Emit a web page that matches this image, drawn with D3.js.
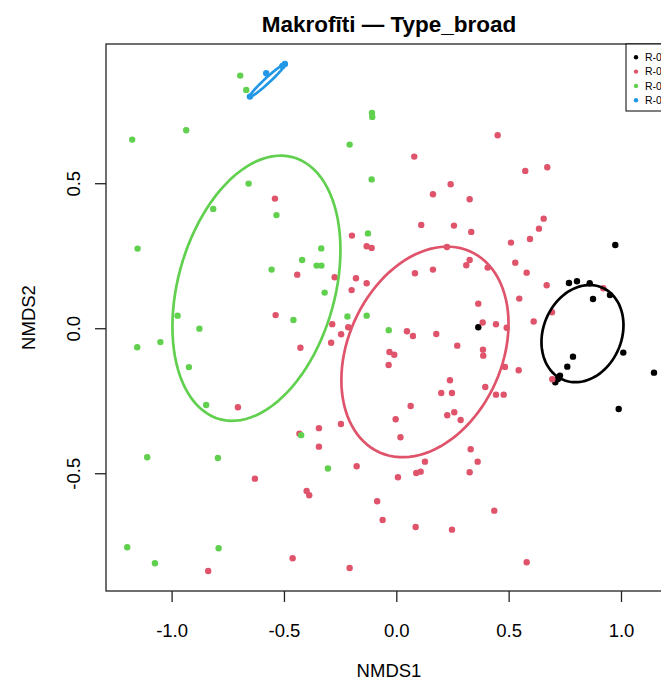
<!DOCTYPE html>
<html lang="lv">

<head>
    <meta charset="UTF-8">
    <title>Makrofīti NMDS</title>
    <script src="https://d3js.org/d3.v7.min.js"></script>
    <style>
        body {
            margin: 0;
            background: white;
            font-family: "Liberation Sans", Arial, sans-serif;
        }

        .title {
            font-size: 22.5px;
            font-weight: bold;
        }

        .axis text {
            font-size: 18.5px;
            font-family: "Liberation Sans", Arial, sans-serif;
            fill: black;
        }

        .axis-label {
            font-size: 18.5px;
        }

        .legend text {
            font-size: 10.5px;
        }
    </style>
</head>

<body>
    <svg id="chart" width="661" height="681"></svg>
    <script>
        // groups (legend order) and colours
        let groups = ["R-01", "R-02", "R-03", "R-04"]
        let colors = ["#000000", "#DF536B", "#61D04F", "#2297E6"]

        // NMDS scores per group, [NMDS1, NMDS2]
        let pts_r01 = [
            [0.9746, 0.2872], [0.7685, 0.1562], [0.8041, 0.1621], [0.8607, 0.1552], [0.8754, 0.1010],
            [0.9510, 0.1148], [0.3648, 0.0034], [0.7863, -0.0979], [0.7610, -0.1324], [0.7285, -0.1634],
            [0.7196, -0.1748], [0.7075, -0.1862], [1.0102, -0.0841], [1.1469, -0.1531], [0.9898, -0.2783]
        ]
        let pts_r02 = [
            [-0.5402, 0.4469], [-0.1974, 0.3193], [-0.1320, 0.2828], [-0.1097, 0.2769], [-0.4409, 0.1848],
            [-0.2744, 0.1759], [-0.1796, 0.1724], [-0.1320, 0.1552], [-0.1988, 0.1314], [-0.5371, 0.0452],
            [0.4511, 0.6655], [0.0799, 0.5917], [0.5740, 0.5424], [0.6719, 0.5552], [0.2419, 0.4966],
            [0.1631, 0.4621], [0.3265, 0.4448], [0.1111, 0.3562], [0.2566, 0.3538], [0.3336, 0.3321],
            [0.6559, 0.3779], [0.6350, 0.3434], [0.5949, 0.3079], [0.5103, 0.2952], [0.2255, 0.2803],
            [0.3265, 0.2355], [0.3114, 0.2172], [0.4066, 0.2090], [0.0830, 0.1897], [0.1631, 0.2021],
            [0.5295, 0.2262], [0.5802, 0.1917], [0.6693, 0.1483], [0.9212, 0.1379], [0.5473, 0.1021],
            [0.3648, 0.0848], [0.6929, 0.0552], [0.3844, 0.0200], [0.4436, 0.0138], [0.6114, 0.0234],
            [0.4912, 0.0017], [-0.2851, 0.0141], [-0.2139, 0.0034], [-0.2455, -0.0207], [0.0474, -0.0103],
            [0.0741, -0.0266], [0.1778, -0.0197], [-0.2900, -0.0500], [-0.4267, -0.0672], [-0.0305, -0.0817],
            [-0.0091, -0.0914], [-0.0341, -0.1266], [0.2713, -0.0600], [0.3857, -0.0738], [0.3870, -0.0945],
            [0.4836, -0.1334], [0.5446, -0.1448], [0.6942, -0.1759], [0.2388, -0.1793], [0.2001, -0.2231],
            [0.2477, -0.2231], [0.3960, -0.2024], [0.4436, -0.2290], [0.4778, -0.2290], [0.0639, -0.2679],
            [-0.7049, -0.2724], [-0.4311, -0.3634], [-0.3443, -0.3445], [-0.2464, -0.3300], [-0.3443, -0.4083],
            [-0.0029, -0.3138], [0.0185, -0.3759], [0.2268, -0.3000], [0.2580, -0.2897], [0.2864, -0.3162],
            [-0.1765, -0.4759], [0.0073, -0.5138], [0.0888, -0.4990], [0.1084, -0.4945], [0.1275, -0.4600],
            [0.3310, -0.4172], [0.3621, -0.4600], [0.3265, -0.4966], [-0.6292, -0.5186], [-0.3991, -0.5610],
            [-0.3875, -0.5759], [-0.0852, -0.5966], [-0.0608, -0.6610], [0.4360, -0.6290], [0.0861, -0.6852],
            [0.2477, -0.6945], [-0.4614, -0.7931], [-0.2077, -0.8266], [-0.8371, -0.8369], [0.5802, -0.8069]
        ]
        let pts_r03 = [
            [-0.6946, 0.8710], [-0.6679, 0.8217], [-0.1084, 0.7424], [-0.1071, 0.7286], [-1.1754, 0.6503],
            [-0.9350, 0.6828], [-0.2077, 0.6331], [-0.1097, 0.5131], [-0.6572, 0.4986], [-0.8148, 0.4114],
            [-0.5335, 0.3900], [-1.1514, 0.2745], [-0.1262, 0.3269], [-0.3341, 0.2752], [-0.4191, 0.2355],
            [-0.3546, 0.2159], [-0.3332, 0.2159], [-0.5549, 0.2021], [-0.3189, 0.1228], [-0.9733, 0.0434],
            [-0.4578, 0.0286], [-0.2174, 0.0407], [-0.1320, 0.0434], [-0.0336, -0.0066], [-0.8763, -0.0014],
            [-1.1531, -0.0655], [-1.0499, -0.0479], [-0.9230, -0.1341], [-0.8464, -0.2645], [-0.4235, -0.3686],
            [-1.1086, -0.4448], [-0.7939, -0.4472], [-0.3043, -0.4834], [-1.1976, -0.7552], [-1.0743, -0.8103],
            [-0.7908, -0.7586]
        ]
        let pts_r04 = [
            [-0.6515, 0.7986], [-0.5789, 0.8793], [-0.5068, 0.9045], [-0.4957, 0.9114]
        ]

        // ellipse per group: centre and cholesky factor [s11, s12, s22]
        let ell_center = [[0.8286, -0.0186], [0.1275, -0.0817], [-0.6225, 0.1379], [-0.5749, 0.8534]]
        let ell_chol = [[0.1825, 0.029, 0.1650], [0.372, 0.097, 0.3498], [0.3739, 0.1321, 0.4377], [0.078, 0.0545, 0.0125]]

        let x_ticks = [-1.0, -0.5, 0.0, 0.5, 1.0]
        let y_ticks = [-0.5, 0.0, 0.5]

        let all_pts = [pts_r01, pts_r02, pts_r03, pts_r04]

        let svg = d3.select("#chart")
        let plot = { left: 106, right: 672, top: 44, bottom: 591 }

        let xScale = d3.scaleLinear().domain([-1.292, 1.227]).range([plot.left, plot.right])
        let yScale = d3.scaleLinear().domain([-0.906, 0.980]).range([plot.bottom, plot.top])

        // points
        all_pts.forEach(function (pts, gi) {
            svg.append("g").selectAll("circle")
                .data(pts)
                .enter()
                .append("circle")
                .attr("cx", d => xScale(d[0]))
                .attr("cy", d => yScale(d[1]))
                .attr("r", 3.2)
                .attr("fill", colors[gi])
        })

        // ellipses
        let lineGen = d3.line()
            .x(d => xScale(d[0]))
            .y(d => yScale(d[1]))
            .curve(d3.curveLinearClosed)
        ell_center.forEach(function (c, gi) {
            let s = ell_chol[gi]
            let ring = d3.range(0, 100).map(function (i) {
                let t = i / 100 * 2 * Math.PI
                return [c[0] + s[0] * Math.cos(t), c[1] + s[1] * Math.cos(t) + s[2] * Math.sin(t)]
            })
            svg.append("path")
                .attr("d", lineGen(ring))
                .attr("fill", "none")
                .attr("stroke", colors[gi])
                .attr("stroke-width", 2.7)
        })

        // box
        svg.append("rect")
            .attr("x", plot.left)
            .attr("y", plot.top)
            .attr("width", plot.right - plot.left)
            .attr("height", plot.bottom - plot.top)
            .attr("fill", "none")
            .attr("stroke", "#222")
            .attr("stroke-width", 1.3)

        // axes
        let x_axis = d3.axisBottom(xScale).tickValues(x_ticks).tickSize(11).tickPadding(22)
            .tickFormat(d => d.toFixed(1))
        let gx = svg.append("g").attr("class", "axis")
            .attr("transform", `translate(0,${plot.bottom})`)
            .call(x_axis)
        gx.select(".domain").remove()
        gx.selectAll(".tick line").attr("stroke", "#222").attr("stroke-width", 1.3)

        let y_axis = d3.axisLeft(yScale).tickValues(y_ticks).tickSize(11)
            .tickFormat(d => d.toFixed(1))
        let gy = svg.append("g").attr("class", "axis")
            .attr("transform", `translate(${plot.left},0)`)
            .call(y_axis)
        gy.select(".domain").remove()
        gy.selectAll(".tick line").attr("stroke", "#222").attr("stroke-width", 1.3)
        gy.selectAll(".tick text")
            .attr("x", null)
            .attr("dy", null)
            .attr("text-anchor", "middle")
            .attr("transform", "translate(-26,0) rotate(-90)")

        // labels
        svg.append("text")
            .attr("class", "title")
            .attr("x", (plot.left + plot.right) / 2)
            .attr("y", 31.5)
            .attr("text-anchor", "middle")
            .text("Makrofīti — Type_broad")

        svg.append("text")
            .attr("class", "axis-label")
            .attr("x", (plot.left + plot.right) / 2)
            .attr("y", 677)
            .attr("text-anchor", "middle")
            .text("NMDS1")

        svg.append("text")
            .attr("class", "axis-label")
            .attr("transform", `translate(35,${(plot.top + plot.bottom) / 2}) rotate(-90)`)
            .attr("text-anchor", "middle")
            .text("NMDS2")

        // legend (top right, runs off the page like the original)
        let legend = svg.append("g").attr("class", "legend")
        legend.append("rect")
            .attr("x", 626)
            .attr("y", plot.top)
            .attr("width", 80)
            .attr("height", 67)
            .attr("fill", "white")
            .attr("stroke", "black")
            .attr("stroke-width", 1)
        groups.forEach(function (g, i) {
            let ly = 57.3 + i * 14.3
            legend.append("circle")
                .attr("cx", 636)
                .attr("cy", ly)
                .attr("r", 2.2)
                .attr("fill", colors[i])
            legend.append("text")
                .attr("x", 645)
                .attr("y", ly)
                .attr("dy", "0.35em")
                .text(g)
        })
    </script>
</body>

</html>
